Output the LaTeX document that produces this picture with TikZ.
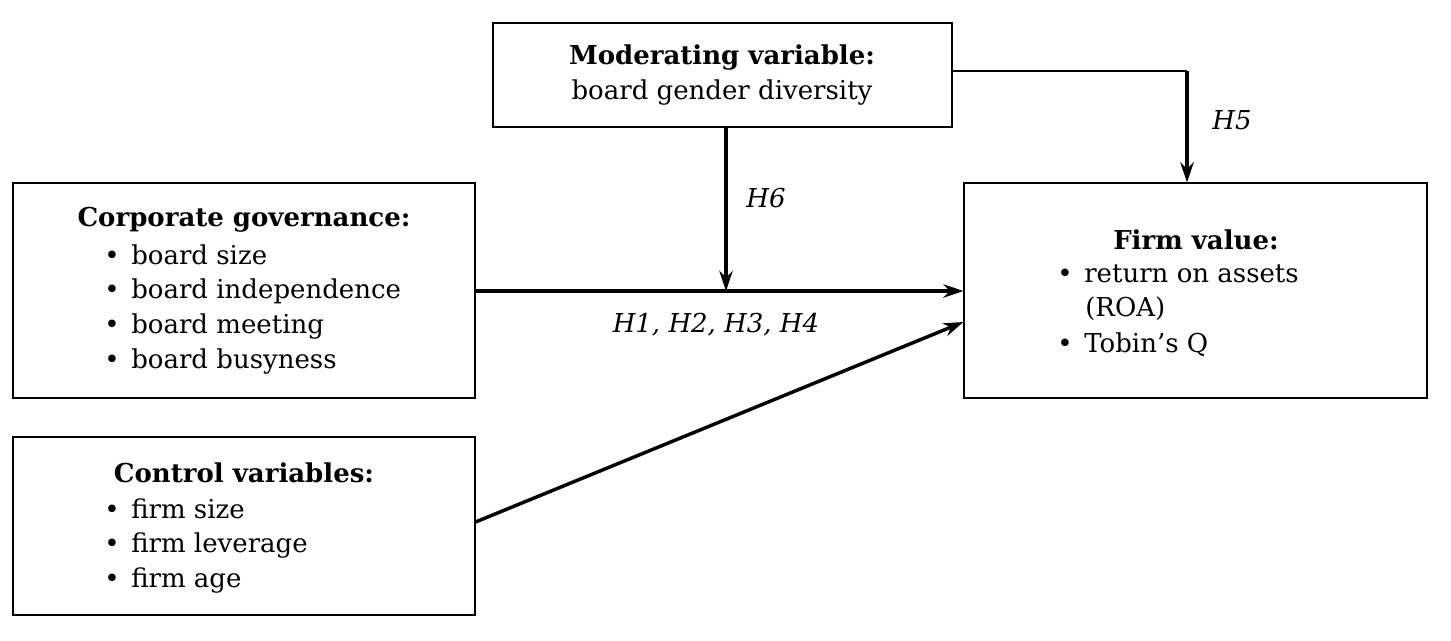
\documentclass[tikz,border=0pt]{standalone}
\usepackage{fontspec}
\setmainfont{DejaVu Serif}
\usetikzlibrary{arrows.meta}
\begin{document}
\begin{tikzpicture}[x=0.75pt,y=-0.75pt,
  box/.style={draw,line width=0.8pt,inner sep=0pt},
  txt/.style={inner sep=0pt,font=\fontsize{19.5}{22}\selectfont},
  lst/.style={txt,anchor=west},
  hyp/.style={txt,font=\fontsize{19.5}{22}\selectfont\itshape},
  arr/.style={line width=2.6pt,-{Stealth[length=15pt,width=10pt]}}]
\useasboundingbox (0,0) rectangle (1451,640);
\node[box,minimum width=459*0.75pt,minimum height=104*0.75pt] (mod) at (722.5,75) {};
\node[box,minimum width=462*0.75pt,minimum height=215*0.75pt] (cg) at (244,290.5) {};
\node[box,minimum width=462*0.75pt,minimum height=178*0.75pt] (cv) at (244,526) {};
\node[box,minimum width=463*0.75pt,minimum height=215*0.75pt] (fv) at (1195.5,290.5) {};
% texts
\node[txt] (modt) at (722,58) {\bfseries Moderating variable:};
\node[txt] (modl) at (722,93) {board gender diversity};
\node[txt] (cgt) at (244,220) {\bfseries Corporate governance:};
\node[lst] (cg1) at (104,255) {\textbullet\hspace{0.45em}board size};
\node[lst] (cg2) at (104,291) {\textbullet\hspace{0.45em}board independence};
\node[lst] (cg3) at (104,327) {\textbullet\hspace{0.45em}board meeting};
\node[lst] (cg4) at (104,362) {\textbullet\hspace{0.45em}board busyness};
\node[txt] (cvt) at (244,473) {\bfseries Control variables:};
\node[lst] (cv1) at (104,509) {\textbullet\hspace{0.45em}firm size};
\node[lst] (cv2) at (104,545) {\textbullet\hspace{0.45em}firm leverage};
\node[lst] (cv3) at (104,580) {\textbullet\hspace{0.45em}firm age};
\node[txt] (fvt) at (1196,240) {\bfseries Firm value:};
\node[lst] (fv1) at (1057,274) {\textbullet\hspace{0.45em}return on assets};
\node[lst] (fv2) at (1085,309) {(ROA)};
\node[lst] (fv3) at (1057,345) {\textbullet\hspace{0.45em}Tobin’s Q};
% connectors
\coordinate (j) at (726,291);
\coordinate (c) at (1187,71);
\draw[arr] (cg.east |- j) -- (fv.west |- j);
\draw[arr] (mod.south -| j) -- (j);
\draw[line width=0.8pt] (mod.east |- c) -- (c);
\draw[arr] (c) -- (c |- fv.north);
\draw[arr] (cv.east |- 0,522) -- (fv.west |- 0,322);
\node[hyp] (h6) at (766,198) {H6};
\node[hyp] (h5) at (1232,120) {H5};
\node[hyp] (h14) at (716,325) {H1, H2, H3, H4};
\end{tikzpicture}
\end{document}
